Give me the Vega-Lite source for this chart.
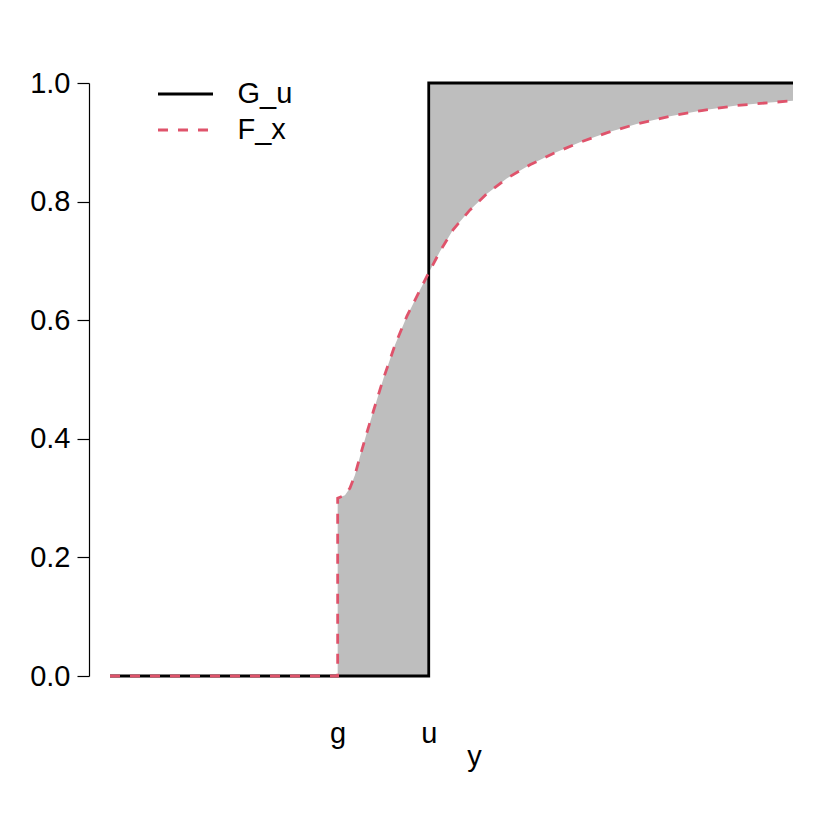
{
  "$schema": "https://vega.github.io/schema/vega-lite/v6.json",
  "autosize": {"type": "none"},
  "padding": {"left": 110, "top": 83, "right": 37, "bottom": 154},
  "width": 683,
  "height": 593,
  "config": {"font": "Liberation Sans", "view": {"stroke": null}},
  "datasets": {
    "lines": [
      {"series": "G_u", "i": 0, "x": -2.5, "y": 0},
      {"series": "G_u", "i": 1, "x": 1, "y": 0},
      {"series": "G_u", "i": 2, "x": 1, "y": 1},
      {"series": "G_u", "i": 3, "x": 5, "y": 1},
      {"series": "F_x", "i": 0, "x": -2.5, "y": 0},
      {"series": "F_x", "i": 1, "x": 0, "y": 0},
      {"series": "F_x", "i": 2, "x": 0, "y": 0.3},
      {"series": "F_x", "i": 3, "x": 0.08, "y": 0.305},
      {"series": "F_x", "i": 4, "x": 0.135, "y": 0.317},
      {"series": "F_x", "i": 5, "x": 0.19, "y": 0.339},
      {"series": "F_x", "i": 6, "x": 0.245, "y": 0.37},
      {"series": "F_x", "i": 7, "x": 0.318, "y": 0.409},
      {"series": "F_x", "i": 8, "x": 0.391, "y": 0.446},
      {"series": "F_x", "i": 9, "x": 0.501, "y": 0.501},
      {"series": "F_x", "i": 10, "x": 0.629, "y": 0.558},
      {"series": "F_x", "i": 11, "x": 0.758, "y": 0.606},
      {"series": "F_x", "i": 12, "x": 0.904, "y": 0.651},
      {"series": "F_x", "i": 13, "x": 1.0, "y": 0.68},
      {"series": "F_x", "i": 14, "x": 1.123, "y": 0.716},
      {"series": "F_x", "i": 15, "x": 1.269, "y": 0.753},
      {"series": "F_x", "i": 16, "x": 1.453, "y": 0.786},
      {"series": "F_x", "i": 17, "x": 1.636, "y": 0.813},
      {"series": "F_x", "i": 18, "x": 1.856, "y": 0.839},
      {"series": "F_x", "i": 19, "x": 2.112, "y": 0.862},
      {"series": "F_x", "i": 20, "x": 2.367, "y": 0.881},
      {"series": "F_x", "i": 21, "x": 2.66, "y": 0.9},
      {"series": "F_x", "i": 22, "x": 2.954, "y": 0.916},
      {"series": "F_x", "i": 23, "x": 3.283, "y": 0.931},
      {"series": "F_x", "i": 24, "x": 3.649, "y": 0.944},
      {"series": "F_x", "i": 25, "x": 4.014, "y": 0.954},
      {"series": "F_x", "i": 26, "x": 4.381, "y": 0.962},
      {"series": "F_x", "i": 27, "x": 4.747, "y": 0.967},
      {"series": "F_x", "i": 28, "x": 5.0, "y": 0.97}
    ],
    "fill": [
      {"part": "A", "x": 0, "F": 0.3, "G": 0},
      {"part": "A", "x": 0.08, "F": 0.305, "G": 0},
      {"part": "A", "x": 0.135, "F": 0.317, "G": 0},
      {"part": "A", "x": 0.19, "F": 0.339, "G": 0},
      {"part": "A", "x": 0.245, "F": 0.37, "G": 0},
      {"part": "A", "x": 0.318, "F": 0.409, "G": 0},
      {"part": "A", "x": 0.391, "F": 0.446, "G": 0},
      {"part": "A", "x": 0.501, "F": 0.501, "G": 0},
      {"part": "A", "x": 0.629, "F": 0.558, "G": 0},
      {"part": "A", "x": 0.758, "F": 0.606, "G": 0},
      {"part": "A", "x": 0.904, "F": 0.651, "G": 0},
      {"part": "A", "x": 1.0, "F": 0.68, "G": 0},
      {"part": "B", "x": 1.0, "F": 0.68, "G": 1},
      {"part": "B", "x": 1.123, "F": 0.716, "G": 1},
      {"part": "B", "x": 1.269, "F": 0.753, "G": 1},
      {"part": "B", "x": 1.453, "F": 0.786, "G": 1},
      {"part": "B", "x": 1.636, "F": 0.813, "G": 1},
      {"part": "B", "x": 1.856, "F": 0.839, "G": 1},
      {"part": "B", "x": 2.112, "F": 0.862, "G": 1},
      {"part": "B", "x": 2.367, "F": 0.881, "G": 1},
      {"part": "B", "x": 2.66, "F": 0.9, "G": 1},
      {"part": "B", "x": 2.954, "F": 0.916, "G": 1},
      {"part": "B", "x": 3.283, "F": 0.931, "G": 1},
      {"part": "B", "x": 3.649, "F": 0.944, "G": 1},
      {"part": "B", "x": 4.014, "F": 0.954, "G": 1},
      {"part": "B", "x": 4.381, "F": 0.962, "G": 1},
      {"part": "B", "x": 4.747, "F": 0.967, "G": 1},
      {"part": "B", "x": 5.0, "F": 0.97, "G": 1}
    ]
  },
  "layer": [
    {
      "data": {"name": "fill"},
      "mark": {"type": "area", "color": "#BEBEBE", "opacity": 1},
      "encoding": {
        "x": {
          "field": "x", "type": "quantitative",
          "scale": {"domain": [-2.5, 5], "nice": false, "zero": false},
          "axis": {
            "values": [0, 1],
            "labelExpr": "datum.value == 0 ? 'g' : 'u'",
            "domain": false, "ticks": false, "grid": false,
            "labelFontSize": 29, "labelColor": "black",
            "labelBaseline": "alphabetic", "labelPadding": 66,
            "title": "y", "titleFontSize": 29, "titleFontWeight": "normal",
            "titleColor": "black", "titleX": 364, "titleY": 89,
            "titleBaseline": "alphabetic", "titleAlign": "center"
          }
        },
        "y": {
          "field": "F", "type": "quantitative",
          "scale": {"domain": [0, 1], "nice": false, "zero": false},
          "axis": {
            "values": [0, 0.2, 0.4, 0.6, 0.8, 1],
            "format": ".1f", "offset": 21, "grid": false,
            "tickSize": 12, "tickColor": "black", "tickWidth": 1.2,
            "domainColor": "black", "domainWidth": 1.2,
            "labelFontSize": 29, "labelColor": "black", "labelPadding": 7,
            "title": null
          }
        },
        "y2": {"field": "G"},
        "detail": {"field": "part"}
      }
    },
    {
      "data": {"name": "lines"},
      "transform": [{"filter": "datum.series == 'G_u'"}],
      "mark": {"type": "line", "strokeWidth": 2.8, "strokeCap": "butt"},
      "encoding": {
        "x": {"field": "x", "type": "quantitative"},
        "y": {"field": "y", "type": "quantitative"},
        "order": {"field": "i", "type": "quantitative"},
        "color": {
          "field": "series", "type": "nominal",
          "scale": {"domain": ["G_u", "F_x"], "range": ["black", "#DF536B"]},
          "legend": {
            "orient": "none", "legendX": 46.5, "legendY": -7,
            "title": null, "padding": 0,
            "symbolType": "stroke", "symbolSize": 3025, "symbolStrokeWidth": 2.8,
            "labelFontSize": 29, "labelColor": "black", "labelOffset": 23,
            "rowPadding": 0, "clipHeight": 36
          }
        },
        "strokeDash": {
          "field": "series", "type": "nominal",
          "scale": {"domain": ["G_u", "F_x"], "range": [[1, 0], [10, 10]]},
          "legend": {
            "orient": "none", "legendX": 46.5, "legendY": -7,
            "title": null, "padding": 0,
            "symbolType": "stroke", "symbolSize": 3025, "symbolStrokeWidth": 2.8,
            "labelFontSize": 29, "labelColor": "black", "labelOffset": 23,
            "rowPadding": 0, "clipHeight": 36
          }
        }
      }
    },
    {
      "data": {"name": "lines"},
      "transform": [{"filter": "datum.series == 'F_x'"}],
      "mark": {"type": "line", "strokeWidth": 2.8, "strokeCap": "butt"},
      "encoding": {
        "x": {"field": "x", "type": "quantitative"},
        "y": {"field": "y", "type": "quantitative"},
        "order": {"field": "i", "type": "quantitative"},
        "color": {"field": "series", "type": "nominal"},
        "strokeDash": {"field": "series", "type": "nominal"}
      }
    }
  ]
}
